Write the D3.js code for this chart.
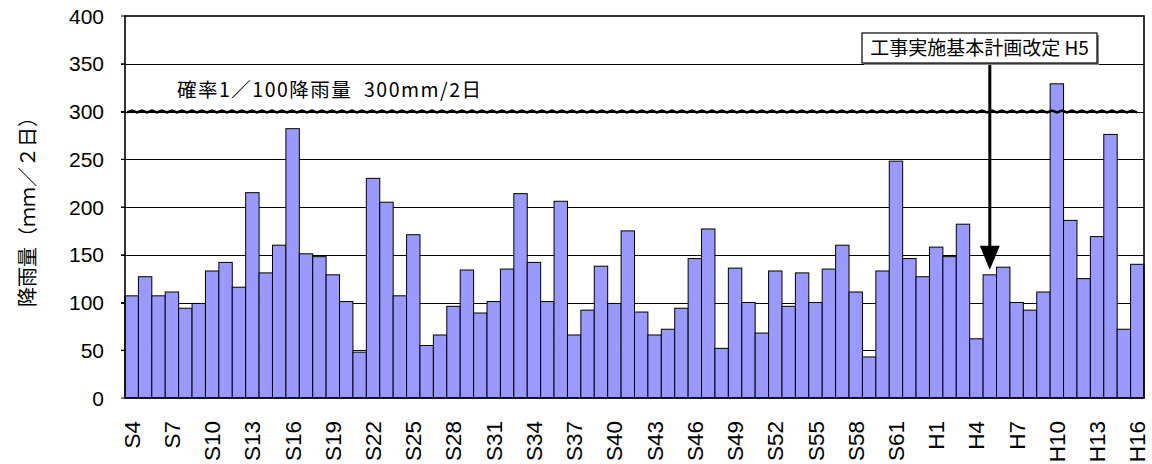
<!DOCTYPE html>
<html><head><meta charset="utf-8">
<script src="https://cdn.jsdelivr.net/npm/d3@7"></script>
<style>
html,body{margin:0;padding:0;background:#fff;}
svg{display:block;}
text{font-family:"Liberation Sans","Noto Sans CJK JP",sans-serif;}
.jp{font-family:"Noto Sans CJK JP",sans-serif;}
</style></head>
<body>
<svg id="c" width="1152" height="464"></svg>
<script>
// Categories (S4..S63, H1..H16)
const categories = [];
for (let i = 4; i <= 63; i++) categories.push("S" + i);
for (let i = 1; i <= 16; i++) categories.push("H" + i);

const rainfall = [
  107,127,107,111,94,99,133,142,116,215,
  131,160,282,151,148,129,101,48,230,205,
  107,171,55,66,96,134,89,101,135,214,
  142,101,206,66,92,138,99,175,90,66,
  72,94,146,177,52,136,100,68,133,96,
  131,100,135,160,111,43,133,248,146,127,
  158,148,182,62,129,137,100,92,111,329,
  186,125,169,276,72,140
];

const tickLabels = ["S4","S7","S10","S13","S16","S19","S22","S25","S28","S31","S34","S37","S40","S43","S46","S49","S52","S55","S58","S61","H1","H4","H7","H10","H13","H16"];
const yTicks = [0,50,100,150,200,250,300,350,400];
const thresholdValue = 300;
const thresholdLabel = "確率1／100降雨量  300mm/2日";
const annotationLabel = "工事実施基本計画改定 H5";
const annotationCategory = "H5";
const yTitle = "降雨量（ｍｍ／２日）";

const svg = d3.select("#c");
const L = 125, R = 1144, T = 16, B = 398;
const x = d3.scaleBand().domain(categories).range([L, R]).padding(0);
const y = d3.scaleLinear().domain([0, 400]).range([B, T]);

// gridlines
svg.append("g").selectAll("line").data(yTicks.filter(d => d > 0 && d < 400)).join("line")
  .attr("x1", L - 4).attr("x2", R)
  .attr("y1", d => Math.round(y(d)) + 0.5).attr("y2", d => Math.round(y(d)) + 0.5)
  .attr("stroke", "#000").attr("stroke-width", 1);

// bars
svg.append("g").selectAll("rect").data(rainfall).join("rect")
  .attr("x", (d, i) => x(categories[i]))
  .attr("width", x.bandwidth())
  .attr("y", d => y(d))
  .attr("height", d => B - y(d))
  .attr("fill", "#9999ff").attr("stroke", "#000").attr("stroke-width", 1);

// frame
svg.append("rect").attr("x", L).attr("y", T).attr("width", R - L).attr("height", B - T)
  .attr("fill", "none").attr("stroke", "#000").attr("stroke-width", 1.6);

// y axis ticks + labels
svg.append("g").selectAll("line").data(yTicks).join("line")
  .attr("x1", L - 4).attr("x2", L)
  .attr("y1", d => y(d)).attr("y2", d => y(d)).attr("stroke", "#000");
svg.append("g").selectAll("text").data(yTicks).join("text")
  .attr("x", 104).attr("y", d => y(d)).attr("dy", "0.36em")
  .attr("text-anchor", "end").attr("font-size", 21).attr("fill", "#000")
  .text(d => d);

// x labels
svg.append("g").selectAll("text").data(tickLabels).join("text")
  .attr("transform", d => `translate(${x(d) + x.bandwidth() / 2 + 8},421) rotate(-90)`)
  .attr("text-anchor", "end").attr("font-size", 22.5).attr("fill", "#000")
  .text(d => d);

// y title
svg.append("text").attr("class", "jp")
  .attr("transform", `translate(35,${(T + B) / 2}) rotate(-90)`)
  .attr("text-anchor", "middle").attr("font-size", 20).attr("fill", "#000")
  .text(yTitle);

// threshold wavy line
const ty = y(thresholdValue);
const pts = [];
for (let px = L + 2, k = 0; px <= R - 3; px += 5, k++) pts.push([px, ty + (k % 2 ? -0.9 : 0.9)]);
svg.append("path").attr("d", d3.line()(pts)).attr("fill", "none")
  .attr("stroke", "#000").attr("stroke-width", 2.6);
svg.append("text").attr("class", "jp").attr("x", 177).attr("y", 97)
  .attr("font-size", 19.5).attr("letter-spacing", 1.5).attr("fill", "#000")
  .attr("xml:space", "preserve").style("white-space", "pre").text(thresholdLabel);

// annotation
const ax = x(annotationCategory) + x.bandwidth() / 2;
const aIdx = categories.indexOf(annotationCategory);
const tipY = y(rainfall[aIdx]) - 5;
svg.append("line").attr("x1", ax).attr("x2", ax).attr("y1", 63).attr("y2", tipY - 20)
  .attr("stroke", "#000").attr("stroke-width", 3);
svg.append("path").attr("d", `M${ax - 10},${tipY - 24}L${ax + 10},${tipY - 24}L${ax},${tipY}Z`).attr("fill", "#000");
svg.append("rect").attr("x", 864).attr("y", 35).attr("width", 235).attr("height", 30).attr("fill", "#888");
svg.append("rect").attr("x", 862).attr("y", 33).attr("width", 235).attr("height", 30)
  .attr("fill", "#fff").attr("stroke", "#000").attr("stroke-width", 1.2);
svg.append("text").attr("class", "jp").attr("x", 979.5).attr("y", 48).attr("dy", "0.36em")
  .attr("text-anchor", "middle").attr("font-size", 19).attr("fill", "#000")
  .text(annotationLabel);
</script>
</body></html>
